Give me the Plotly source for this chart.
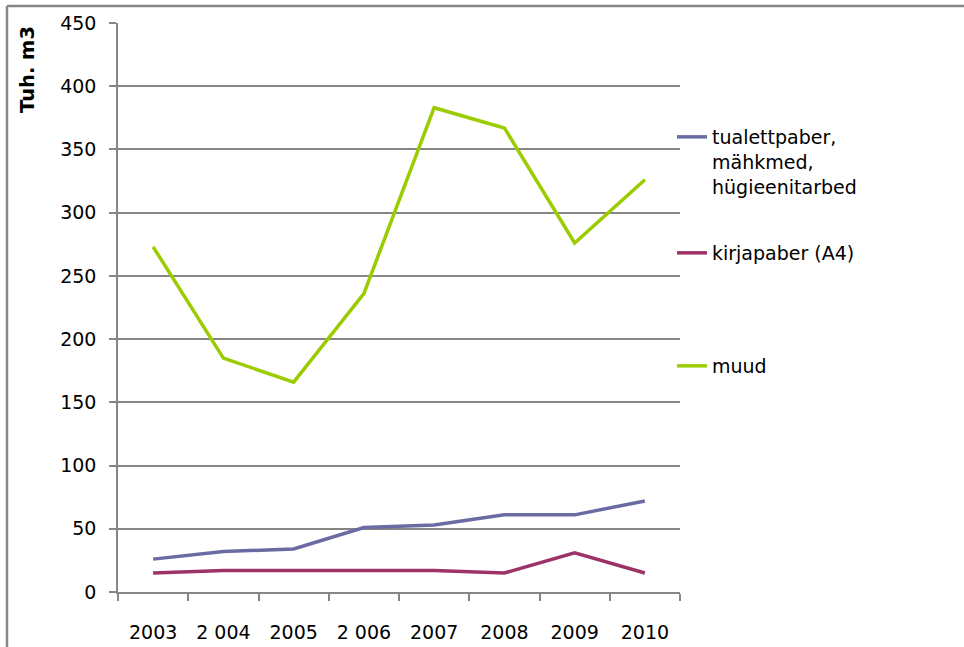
import plotly.graph_objects as go

years = ["2003", "2 004", "2005", "2 006", "2007", "2008", "2009", "2010"]
tualett = [26, 32, 34, 51, 53, 61, 61, 72]
kirjapaber = [15, 17, 17, 17, 17, 15, 31, 15]
muud = [273, 185, 166, 236, 383, 367, 276, 326]

names = ["tualettpaber,<br>mähkmed,<br>hügieenitarbed", "kirjapaber (A4)", "muud"]
colors = ["#6B6BA3", "#9C3366", "#9ACC00"]

FONT = "DejaVu Sans"
FS = 19
fig = go.Figure()
for i, (vals, nm, col) in enumerate(zip([tualett, kirjapaber, muud], names, colors)):
    fig.add_trace(go.Scatter(
        x=years, y=vals, mode="lines", name=nm, showlegend=True,
        line=dict(color=col, width=3.5),
        legend="legend" if i == 0 else f"legend{i+1}",
    ))

W, H = 964, 647
L, R, T, B = 118, 284, 23, 55
pw, ph = W - L - R, H - T - B

def px(xp):
    return (xp - L) / pw

def py(yp):
    return (H - B - yp) / ph

legend_common = dict(font=dict(family=FONT, size=FS, color="#000000"),
                     bgcolor="rgba(0,0,0,0)", valign="top",
                     xanchor="left", yanchor="top", itemwidth=30,
                     tracegroupgap=0, visible=True)
gray = "#868686"

fig.update_layout(
    width=W, height=H,
    showlegend=True,
    margin=dict(l=L, r=R, t=T, b=B, autoexpand=False),
    paper_bgcolor="white", plot_bgcolor="white",
    font=dict(family=FONT, size=FS, color="#000000"),
    legend=dict(x=px(672), y=py(118), **legend_common),
    legend2=dict(x=px(672), y=py(234), **legend_common),
    legend3=dict(x=px(672), y=py(347), **legend_common),
    xaxis=dict(
        type="category", range=[-0.5, 7.5],
        showline=True, linecolor=gray, linewidth=1.5,
        ticks="outside", tickson="boundaries", ticklen=7, tickcolor=gray, tickwidth=1.5,
        showgrid=False, ticklabelstandoff=22,
        tickfont=dict(family=FONT, size=FS),
    ),
    yaxis=dict(
        range=[0, 450], dtick=50, tick0=0,
        showline=True, linecolor=gray, linewidth=1.5,
        ticks="outside", ticklen=7, tickcolor=gray, tickwidth=1.5,
        showgrid=True, gridcolor=gray, gridwidth=1.5,
        zeroline=False, ticklabelstandoff=9,
        tickfont=dict(family=FONT, size=FS),
    ),
    annotations=[dict(
        text="<b>Tuh. m3</b>", textangle=-90, showarrow=False,
        xref="paper", yref="paper", x=px(28), y=py(70),
        xanchor="center", yanchor="middle",
        font=dict(family=FONT, size=19.5, color="#000000"),
    )],
    shapes=[
        dict(type="line", xref="paper", yref="paper",
             x0=px(7), x1=px(970), y0=py(6), y1=py(6),
             line=dict(color=gray, width=2.5)),
        dict(type="line", xref="paper", yref="paper",
             x0=px(7), x1=px(7), y0=py(6), y1=py(660),
             line=dict(color=gray, width=2.5)),
    ],
)

fig.write_html("out.html", config={"displayModeBar": False},
               post_script="document.body.style.margin='0';document.body.style.overflow='hidden';")
